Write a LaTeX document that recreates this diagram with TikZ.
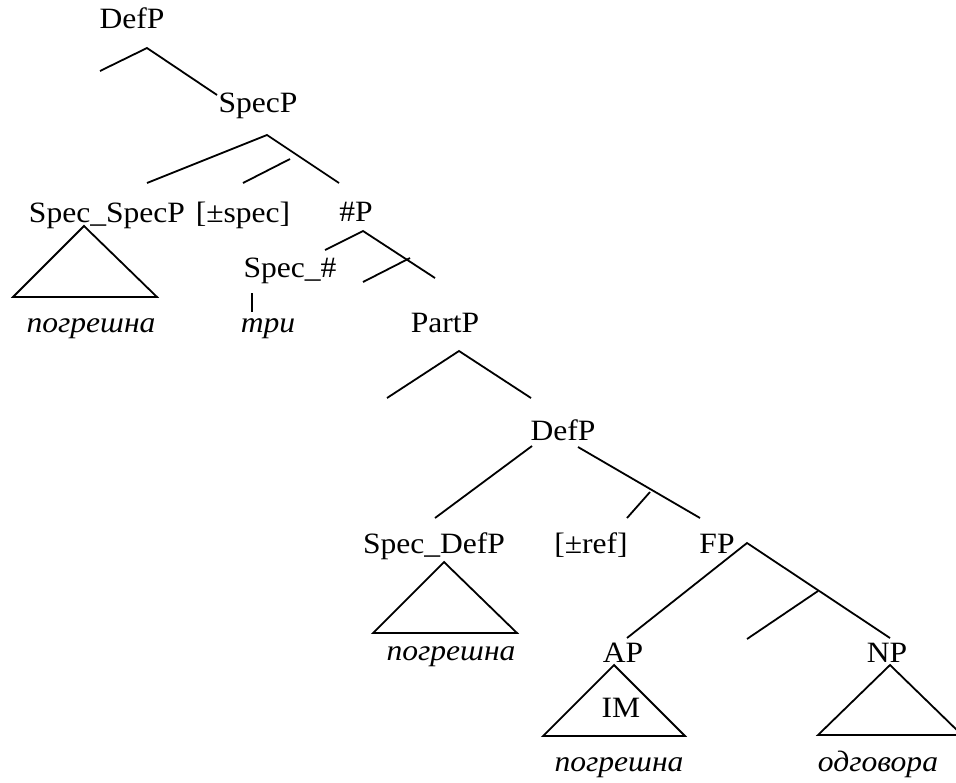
\documentclass[tikz,border=0pt]{standalone}
\usepackage{fontspec}
\setmainfont[FakeStretch=1.07]{Liberation Serif}

\tikzset{
  lbl/.style={anchor=base,inner sep=0pt,font=\fontsize{14.75}{18}\selectfont},
  ex/.style={lbl,font=\fontsize{14.75}{18}\selectfont\itshape},
}

\begin{document}
\begin{tikzpicture}[x=0.5pt,y=-0.5pt,line width=0.9pt]
            \useasboundingbox (0,0) rectangle (956,782);
            \node[lbl] (defP) at (132,28) {DefP};
            \node[lbl] (specP) at (258,112) {SpecP};
            \node[lbl] (specSpecP) at (107,222) {Spec\_SpecP};
            \node[lbl] (specFeat) at (243,222) {[±spec]};
            \node[lbl] (numP) at (356,221) {\#P};
            \node[lbl] (specNum) at (290,277) {Spec\_\#};
            \node[ex] (wdSpec) at (91,332) {погрешна};
            \node[ex] (wdNum) at (268,332) {три};
            \node[lbl] (partP) at (445,332) {PartP};
            \node[lbl] (defPb) at (563,440) {DefP};
            \node[lbl] (specDefP) at (434,553) {Spec\_DefP};
            \node[lbl] (refFeat) at (591,553) {[±ref]};
            \node[lbl] (fP) at (717,553) {FP};
            \node[ex] (wdDef) at (451,660) {погрешна};
            \node[lbl] (aP) at (623,662) {AP};
            \node[lbl] (nP) at (887,662) {NP};
            \node[lbl] (im) at (621,717) {IM};
            \node[ex] (wdA) at (619,771) {погрешна};
            \node[ex] (wdN) at (878,771) {одговора};
            % branch points
            \coordinate (defPa) at (147,48);
            \coordinate (defPl) at (100,71);
            \coordinate (defPr) at (217,95);
            \coordinate (specPa) at (267,135);
            \coordinate (specPl) at (147,183);
            \coordinate (specPr) at (339,183);
            \coordinate (specPm) at (290,159);
            \coordinate (specPs) at (243,183);
            \coordinate (numPa) at (363,231);
            \coordinate (numPl) at (325,250);
            \coordinate (numPr) at (435,278);
            \coordinate (numPm) at (410,258);
            \coordinate (numPs) at (363,282);
            \coordinate (barT) at (252,293);
            \coordinate (barB) at (252,312);
            \coordinate (partPa) at (459,351);
            \coordinate (partPl) at (387,398);
            \coordinate (partPr) at (531,398);
            \coordinate (defPbl) at (532,446);
            \coordinate (defPbL) at (435,518);
            \coordinate (defPbr) at (578,447);
            \coordinate (defPbR) at (700,518);
            \coordinate (defPbm) at (650,492);
            \coordinate (defPbs) at (627,518);
            \coordinate (fPa) at (747,543);
            \coordinate (fPl) at (627,638);
            \coordinate (fPr) at (890,638);
            \coordinate (fPm) at (818,591);
            \coordinate (fPs) at (747,639);
            \draw (defPl) -- (defPa) -- (defPr);
            \draw (specPl) -- (specPa) -- (specPr);
            \draw (specPs) -- (specPm);
            \draw (numPl) -- (numPa) -- (numPr);
            \draw (numPs) -- (numPm);
            \draw (barT) -- (barB);
            \draw (partPl) -- (partPa) -- (partPr);
            \draw (defPbl) -- (defPbL);
            \draw (defPbr) -- (defPbR);
            \draw (defPbs) -- (defPbm);
            \draw (fPl) -- (fPa) -- (fPr);
            \draw (fPs) -- (fPm);
            % triangles
            \draw (84,226) -- (13,297) -- (157,297) -- cycle;
            \draw (444,562) -- (373,633) -- (517,633) -- cycle;
            \draw (614,665) -- (543,736) -- (685,736) -- cycle;
            \draw (890,665) -- (818,735) -- (962,735) -- cycle;
\end{tikzpicture}
\end{document}
